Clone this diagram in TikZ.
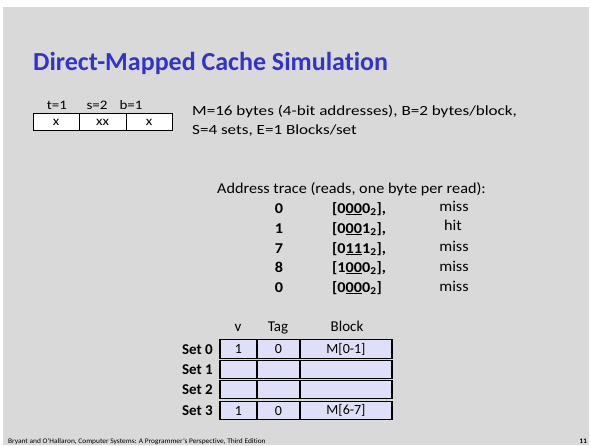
\documentclass[tikz,border=0pt]{standalone}
\usepackage{fontspec}
\setmainfont[Ligatures=NoCommon]{Carlito}
\newfontfamily\stPar[FakeStretch=1.22,Ligatures=NoCommon]{Carlito}
\newfontfamily\stTr[FakeStretch=1.08,Ligatures=NoCommon]{Carlito}
\newfontfamily\stFmt[FakeStretch=1.15,Ligatures=NoCommon]{Carlito}
\newfontfamily\stFoot[FakeStretch=1.06,Ligatures=NoCommon]{Carlito}
\definecolor{slidebg}{HTML}{D9D9D9}
\definecolor{titleblue}{HTML}{3333CC}
\definecolor{cellfill}{HTML}{DFDFF7}
\begin{document}
\begin{tikzpicture}[x=1pt,y=-1pt,
  txt/.style={inner sep=0pt,anchor=base west,font=\stPar\fontsize{14}{15}\selectfont},
  fmtcell/.style={draw=black,line width=0.9pt,fill=white,minimum height=17pt,inner sep=0pt,font=\stFmt\fontsize{13}{14}\selectfont},
  fmtlab/.style={inner sep=0pt,anchor=base,font=\stFmt\fontsize{13}{14}\selectfont},
  ccell/.style={draw=black,line width=1.3pt,fill=cellfill,inner sep=0pt,minimum height=18.5pt,font=\fontsize{14}{15}\selectfont},
  setlab/.style={inner sep=0pt,anchor=base east,font=\bfseries\fontsize{15}{16}\selectfont},
  hdr/.style={inner sep=0pt,anchor=base,font=\fontsize{15}{16}\selectfont},
  trhead/.style={inner sep=0pt,anchor=base west,font=\stTr\fontsize{15}{16}\selectfont},
  trnum/.style={inner sep=0pt,anchor=base,font=\stTr\bfseries\fontsize{15}{16}\selectfont},
  traddr/.style={inner sep=0pt,anchor=base west,font=\stTr\bfseries\fontsize{15}{16}\selectfont},
  trres/.style={inner sep=0pt,anchor=base,font=\stTr\fontsize{15}{16}\selectfont}]
\useasboundingbox (0,0) rectangle (591,445);
\fill[white] (0,0) rectangle (591,445);
\fill[slidebg] (3,7) rectangle (589,445);
% title
\node[inner sep=0pt,anchor=base west,text=titleblue,font=\bfseries\fontsize{26}{28}\selectfont] (title) at (33,70) {Direct-Mapped Cache Simulation};
% address format
\node[fmtlab] (lt) at (57,109) {t=1};
\node[fmtlab] (ls) at (97,109) {s=2};
\node[fmtlab] (lb) at (131,109) {b=1};
\node[fmtcell,minimum width=46pt] (ct) at (56,122) {x};
\node[fmtcell,minimum width=47pt] (cs) at (102.5,122) {xx};
\node[fmtcell,minimum width=46pt] (cb) at (149,122) {x};
% parameters
\node[txt] (p1) at (192,115) {M=16 bytes (4-bit addresses), B=2 bytes/block,};
\node[txt] (p2) at (192,134.5) {S=4 sets, E=1 Blocks/set};
% address trace
\node[trhead] (trh) at (217,193) {Address trace (reads, one byte per read):};
\newcommand{\ul}[1]{\underline{#1}}
\node[trnum] (n1) at (279,213) {0};
\node[trnum] (n2) at (279,233) {1};
\node[trnum] (n3) at (279,253) {7};
\node[trnum] (n4) at (279,272) {8};
\node[trnum] (n5) at (279,292) {0};
\node[traddr] (a1) at (332,213) {[0\ul{00}0\textsubscript{2}],};
\node[traddr] (a2) at (332,233) {[0\ul{00}1\textsubscript{2}],};
\node[traddr] (a3) at (332,253) {[0\ul{11}1\textsubscript{2}],};
\node[traddr] (a4) at (332,272) {[1\ul{00}0\textsubscript{2}],};
\node[traddr] (a5) at (332,292) {[0\ul{00}0\textsubscript{2}]};
\node[trres] (r1) at (454,211) {miss};
\node[trres] (r2) at (453,230) {hit};
\node[trres] (r3) at (454,251) {miss};
\node[trres] (r4) at (454,271) {miss};
\node[trres] (r5) at (454,291) {miss};
% cache table
\node[hdr] (hv) at (238,331) {v};
\node[hdr] (ht) at (278,331) {Tag};
\node[hdr] (hb) at (347,331) {Block};
\node[setlab] (s0) at (213,354) {Set 0};
\node[setlab] (s1) at (213,374) {Set 1};
\node[setlab] (s2) at (213,394) {Set 2};
\node[setlab] (s3) at (213,415) {Set 3};
\foreach \r/\y/\va/\ta/\ba in {0/349/1/0/M[0-1], 1/369.5//{}/{}, 2/389.5//{}/{}, 3/410.5/1/0/M[6-7]}{
  \node[ccell,minimum width=37pt] (v\r) at (238.5,\y) {\va};
  \node[ccell,minimum width=43pt] (t\r) at (278.5,\y) {\ta};
  \node[ccell,minimum width=92pt] (b\r) at (346,\y) {\ba};
}
% footer
\node[inner sep=0pt,anchor=base west,font=\stFoot\fontsize{7}{8}\selectfont] (foot) at (8,443) {Bryant and O’Hallaron, Computer Systems: A Programmer’s Perspective, Third Edition};
\node[inner sep=0pt,anchor=base east,font=\bfseries\fontsize{7}{8}\selectfont] (pg) at (587,443) {11};
\end{tikzpicture}
\end{document}
